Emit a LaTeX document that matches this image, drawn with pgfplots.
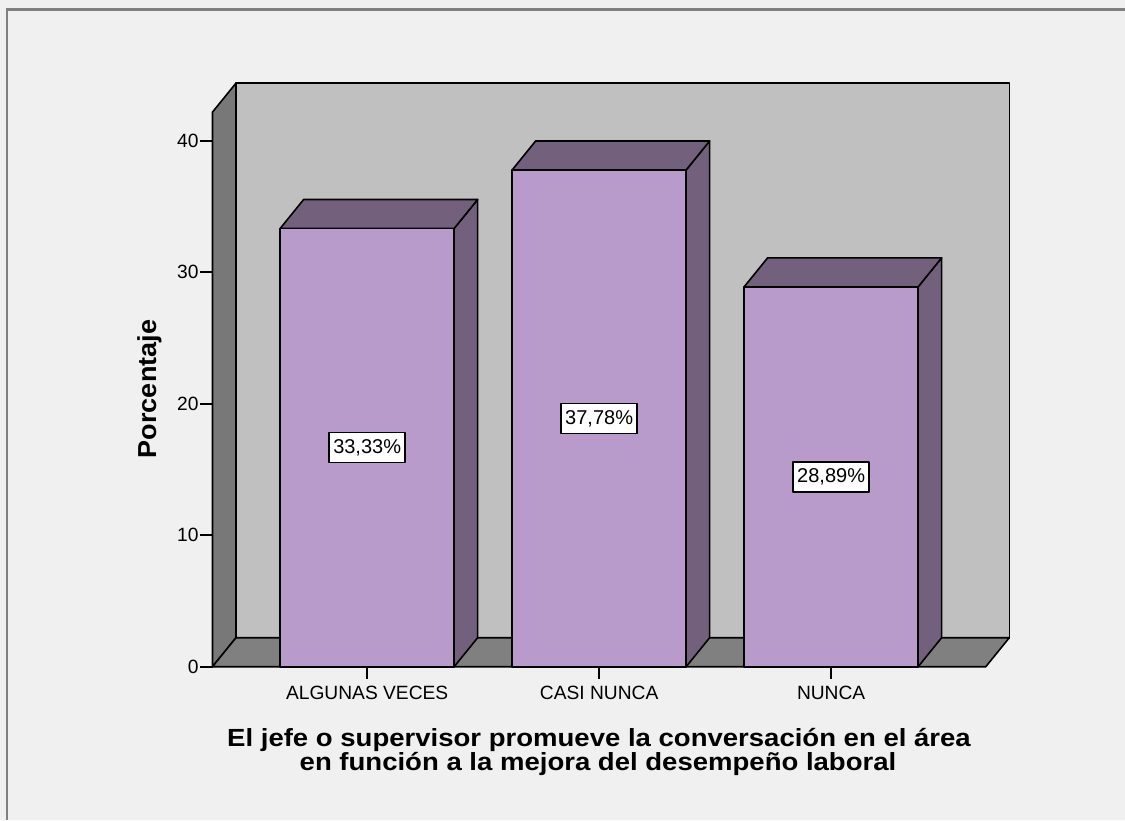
\documentclass[border=0pt]{standalone}
\usepackage{fontspec}
\setmainfont{Liberation Sans}
\usepackage{pgfplots}
\pgfplotsset{compat=1.18}
\definecolor{bgc}{RGB}{240,240,240}
\definecolor{framec}{RGB}{128,128,128}
\definecolor{wallback}{RGB}{192,192,192}
\definecolor{wallside}{RGB}{120,120,120}
\definecolor{floorc}{RGB}{128,128,128}
\definecolor{barfront}{RGB}{184,155,203}
\definecolor{bardark}{RGB}{114,96,124}
\begin{document}
\begin{tikzpicture}
\path[use as bounding box] (0,0) rectangle (562.5pt,410pt);
\fill[bgc] (0,0) rectangle (562.5pt,410pt);
\draw[framec, line width=1.25pt] (3.5pt,0) -- (3.5pt,405.15pt) -- (562.5pt,405.15pt);
\begin{axis}[
  at={(106.25pt,76.65pt)}, anchor=south west,
  scale only axis, width=398.4pt, height=291.8pt,
  xmin=-0.6667, xmax=2.768, ymin=0, ymax=44.385,
  clip=false,
  axis lines*=left,
  axis line style={draw=none},
  tick align=outside,
  major tick length=6pt,
  tick style={black, line width=0.8pt},
  xtick={0,1,2},
  xticklabels={ALGUNAS VECES, CASI NUNCA, NUNCA},
  ytick={0,10,20,30,40},
  /pgf/number format/assume math mode=true,
  ticklabel style={font=\fontsize{9.6}{11}\selectfont},
  yticklabel style={inner sep=0.8pt},
  line join=round,
]
% walls and floor
\addplot[fill=wallback, draw=black, line width=0.8pt] coordinates {(-0.5654,2.205) (2.768,2.205) (2.768,44.385) (-0.5654,44.385)} -- cycle;
\addplot[fill=wallside, draw=black, line width=0.8pt] coordinates {(-0.6667,0) (-0.5654,2.205) (-0.5654,44.385) (-0.6667,42.18)} -- cycle;
\addplot[fill=floorc, draw=black, line width=0.8pt] coordinates {(-0.6667,0) (2.6667,0) (2.768,2.205) (-0.5654,2.205)} -- cycle;
% bar 1 (33.33)
\addplot[fill=bardark, draw=black, line width=0.8pt] coordinates {(0.375,0) (0.4763,2.205) (0.4763,35.535) (0.375,33.33)} -- cycle;
\addplot[fill=bardark, draw=black, line width=0.8pt] coordinates {(-0.375,33.33) (0.375,33.33) (0.4763,35.535) (-0.2737,35.535)} -- cycle;
\addplot[fill=barfront, draw=black, line width=0.8pt] coordinates {(-0.375,0) (0.375,0) (0.375,33.33) (-0.375,33.33)} -- cycle;
% bar 2 (37.78)
\addplot[fill=bardark, draw=black, line width=0.8pt] coordinates {(1.375,0) (1.4763,2.205) (1.4763,39.985) (1.375,37.78)} -- cycle;
\addplot[fill=bardark, draw=black, line width=0.8pt] coordinates {(0.625,37.78) (1.375,37.78) (1.4763,39.985) (0.7263,39.985)} -- cycle;
\addplot[fill=barfront, draw=black, line width=0.8pt] coordinates {(0.625,0) (1.375,0) (1.375,37.78) (0.625,37.78)} -- cycle;
% bar 3 (28.89)
\addplot[fill=bardark, draw=black, line width=0.8pt] coordinates {(2.375,0) (2.4763,2.205) (2.4763,31.095) (2.375,28.89)} -- cycle;
\addplot[fill=bardark, draw=black, line width=0.8pt] coordinates {(1.625,28.89) (2.375,28.89) (2.4763,31.095) (1.7263,31.095)} -- cycle;
\addplot[fill=barfront, draw=black, line width=0.8pt] coordinates {(1.625,0) (2.375,0) (2.375,28.89) (1.625,28.89)} -- cycle;
% value labels
\addplot[draw=none, mark=none, nodes near coords, point meta=explicit symbolic,
  every node near coord/.style={anchor=center, draw=black, fill=white, line width=0.8pt,
    font=\fontsize{10}{11}\selectfont, inner xsep=2pt, inner ysep=0pt, minimum height=15pt}]
  coordinates {(0,16.665) [33,33\%] (1,18.89) [37,78\%] (2,14.445) [28,89\%]};
\end{axis}
\node[rotate=90, anchor=base, font=\fontsize{13}{12}\selectfont\bfseries] at (78pt,215.5pt) {\scalebox{1.04}[1]{Porcentaje}};
\node[anchor=base, font=\fontsize{12.4}{12}\selectfont\bfseries] at (299.5pt,37pt) {\scalebox{1.11}[1]{El jefe o supervisor promueve la conversación en el área}};
\node[anchor=base, font=\fontsize{12.4}{12}\selectfont\bfseries] at (299pt,25pt) {\scalebox{1.11}[1]{en función a la mejora del desempeño laboral}};
\end{tikzpicture}
\end{document}
